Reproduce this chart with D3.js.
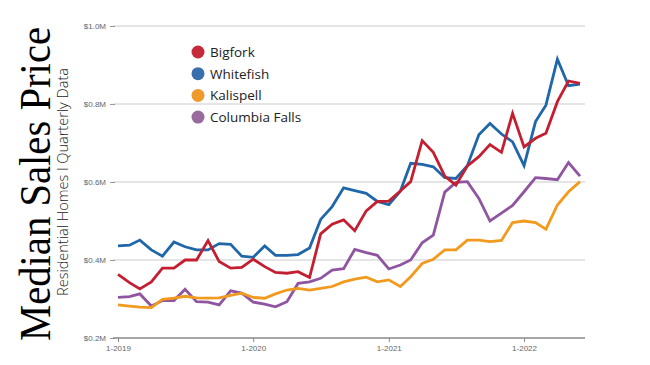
<!DOCTYPE html>
<html lang="en">
    <head>
        <meta charset="utf-8">
        <title>Median Sales Price</title>
        <script type="text/javascript" src="https://d3js.org/d3.v7.min.js"></script>
        <style type="text/css">
            body { margin: 0; background: #fff; }
        </style>
    </head>
    <body>
        <script type="text/javascript">

        // monthly points, Jan 2019 - Jun 2022 (values in $M)
        const months = d3.range(42).map(i => new Date(2019, i, 1));
        const towns = ["Bigfork", "Whitefish", "Kalispell", "Columbia Falls"];
        const bigfork = [0.363, 0.342, 0.326, 0.344, 0.379, 0.379, 0.400, 0.400, 0.450, 0.396, 0.379, 0.381,
                         0.402, 0.383, 0.368, 0.366, 0.370, 0.355, 0.467, 0.492, 0.503, 0.475, 0.526, 0.550,
                         0.551, 0.577, 0.601, 0.706, 0.676, 0.615, 0.592, 0.641, 0.665, 0.696, 0.676, 0.776,
                         0.690, 0.712, 0.725, 0.806, 0.859, 0.853];
        const whitefish = [0.436, 0.438, 0.451, 0.426, 0.410, 0.446, 0.434, 0.426, 0.426, 0.442, 0.440, 0.410,
                           0.407, 0.436, 0.412, 0.412, 0.414, 0.431, 0.504, 0.537, 0.585, 0.578, 0.571, 0.550,
                           0.542, 0.576, 0.648, 0.645, 0.639, 0.611, 0.609, 0.642, 0.721, 0.750, 0.723, 0.703,
                           0.642, 0.755, 0.797, 0.915, 0.847, 0.851];
        const kalispell = [0.285, 0.282, 0.279, 0.278, 0.299, 0.302, 0.307, 0.303, 0.302, 0.303, 0.309, 0.315,
                           0.304, 0.302, 0.313, 0.323, 0.327, 0.323, 0.327, 0.332, 0.344, 0.351, 0.356, 0.344,
                           0.349, 0.332, 0.357, 0.391, 0.402, 0.426, 0.426, 0.451, 0.451, 0.447, 0.450, 0.496,
                           0.500, 0.496, 0.479, 0.541, 0.575, 0.601];
        const columbiaFalls = [0.304, 0.306, 0.313, 0.282, 0.296, 0.296, 0.325, 0.293, 0.292, 0.285, 0.321, 0.315,
                               0.292, 0.287, 0.280, 0.293, 0.340, 0.344, 0.353, 0.374, 0.378, 0.427, 0.419, 0.412,
                               0.377, 0.387, 0.400, 0.444, 0.464, 0.574, 0.599, 0.601, 0.558, 0.500, 0.520, 0.540,
                               0.575, 0.611, 0.609, 0.606, 0.650, 0.615];
        const yTicks = [0.2, 0.4, 0.6, 0.8, 1.0];
        const xTicks = [new Date(2019, 0, 1), new Date(2020, 0, 1), new Date(2021, 0, 1), new Date(2022, 0, 1)];

        const series = [bigfork, whitefish, kalispell, columbiaFalls];
        const lineColors = ["#c31f31", "#1f67a9", "#f29a1e", "#8f55a0"];
        const legendColors = ["#c52a38", "#3a6fae", "#f09a2c", "#9a6a9c"];

        const width = 650;
        const height = 365;

        const xScale = d3.scaleTime()
                        .domain([months[0], months[months.length - 1]])
                        .range([118, 580]);

        const yScale = d3.scaleLinear()
                        .domain([0.2, 1.0])
                        .range([338, 26]);

        const svg = d3.select("body")
                    .append("svg")
                    .attr("width", width)
                    .attr("height", height);

        // gridlines
        svg.append("g")
            .selectAll("line")
            .data(yTicks.slice(1))
            .enter()
            .append("line")
            .attr("x1", 113)
            .attr("x2", 585)
            .attr("y1", d => yScale(d))
            .attr("y2", d => yScale(d))
            .attr("stroke", "#dcdcdc")
            .attr("stroke-width", 1.3);

        // left axis (labels + small ticks)
        const leftAxis = d3.axisLeft(yScale)
                        .tickValues(yTicks)
                        .tickSize(5)
                        .tickPadding(4)
                        .tickFormat(d => "$" + d.toFixed(1) + "M");

        svg.append("g")
            .attr("transform", "translate(115,0)")
            .call(leftAxis)
            .call(g => g.select(".domain").remove())
            .call(g => g.selectAll("line").attr("stroke", "#999"))
            .call(g => g.selectAll("text")
                .style("font-family", "Liberation Sans, Arial, sans-serif")
                .style("font-size", "8px")
                .attr("fill", "#666"));

        // bottom axis
        const bottomAxis = d3.axisBottom(xScale)
                        .tickValues(xTicks)
                        .tickSize(4)
                        .tickSizeOuter(0)
                        .tickPadding(3)
                        .tickFormat(d => "1-" + d.getFullYear());

        svg.append("g")
            .attr("transform", "translate(0,338)")
            .call(bottomAxis)
            .call(g => g.select(".domain")
                .attr("d", "M113,0H585")
                .attr("stroke", "#888")
                .attr("stroke-width", 1.3))
            .call(g => g.selectAll("line").attr("stroke", "#888"))
            .call(g => g.selectAll("text")
                .style("font-family", "Liberation Sans, Arial, sans-serif")
                .style("font-size", "8px")
                .attr("fill", "#666"));

        // lines
        const line = d3.line()
                    .x((d, i) => xScale(months[i]))
                    .y(d => yScale(d));

        // draw columbia falls / kalispell first, then whitefish, bigfork on top
        const order = [3, 2, 1, 0];
        svg.append("g")
            .selectAll("path")
            .data(order)
            .enter()
            .append("path")
            .attr("d", k => line(series[k]))
            .attr("fill", "none")
            .attr("stroke", k => lineColors[k])
            .attr("stroke-width", 2.8)
            .attr("stroke-linejoin", "miter")
            .attr("stroke-linecap", "butt");

        // legend
        const legend = svg.append("g")
                        .selectAll("g")
                        .data(towns)
                        .enter()
                        .append("g")
                        .attr("transform", (d, i) => "translate(198," + (52 + i * 21.7) + ")");

        legend.append("circle")
            .attr("r", 6.5)
            .attr("fill", (d, i) => legendColors[i]);

        legend.append("text")
            .attr("x", 12)
            .attr("y", 5)
            .style("font-family", "Open Sans, sans-serif")
            .style("font-size", "13.5px")
            .attr("fill", "#222")
            .text(d => d);

        // titles
        svg.append("text")
            .attr("transform", "translate(50,341) rotate(-90)")
            .attr("textLength", 314)
            .attr("lengthAdjust", "spacingAndGlyphs")
            .style("font-family", "Liberation Serif, Times New Roman, serif")
            .style("font-size", "44px")
            .attr("fill", "#000")
            .text("Median Sales Price");

        svg.append("text")
            .attr("transform", "translate(68,182) rotate(-90)")
            .attr("text-anchor", "middle")
            .style("font-family", "Open Sans, sans-serif")
            .style("font-size", "14.5px")
            .style("font-weight", "300")
            .attr("fill", "#222")
            .text("Residential Homes I Quarterly Data");

        </script>
    </body>
</html>
